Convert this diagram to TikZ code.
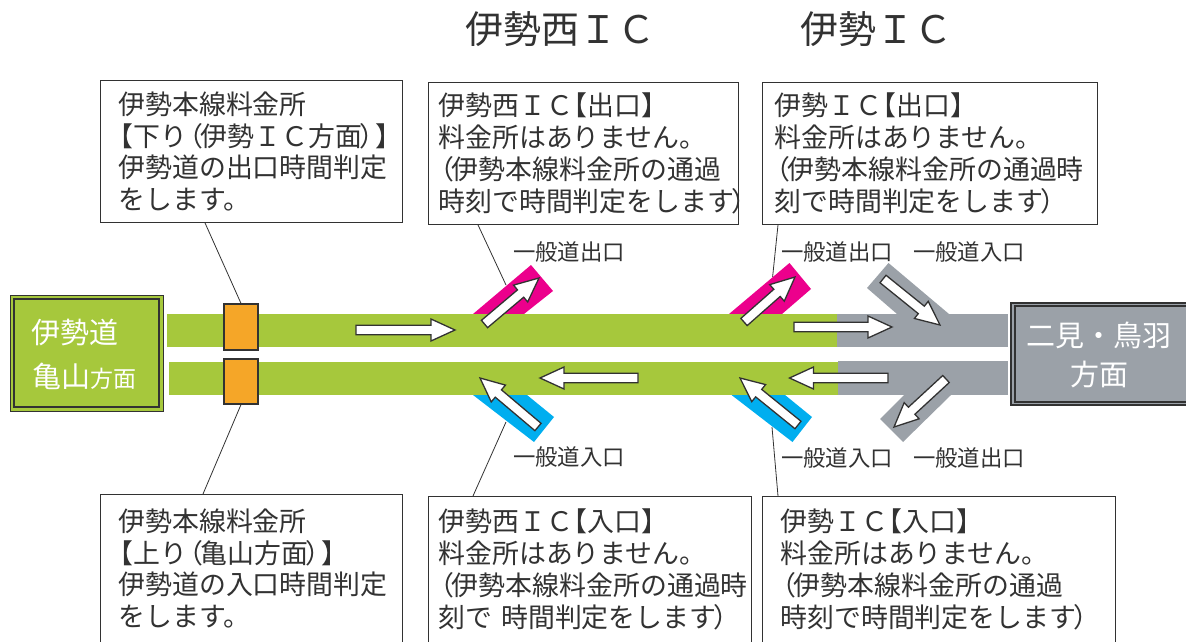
\documentclass[tikz,border=0pt]{standalone}
\usepackage{fontspec}
\setmainfont{Noto Sans CJK JP}
\usetikzlibrary{calc}
\definecolor{roadgreen}{RGB}{166,200,60}
\definecolor{roadgray}{RGB}{155,161,168}
\definecolor{gatefill}{RGB}{245,166,40}
\definecolor{rampmag}{RGB}{236,0,140}
\definecolor{rampcy}{RGB}{0,174,239}
\definecolor{inkdark}{RGB}{50,50,50}
\newcommand{\fsz}[2]{\fontsize{#1}{#2}\selectfont}
\newcommand{\lpar}{\leavevmode\kern-0.4em （\kern-0.1em}
\newcommand{\rpar}{\kern-0.1em）\kern-0.4em}
\newcommand{\lbr}{\leavevmode\kern-0.45em【}
\tikzset{
  infobox/.style={draw=inkdark,line width=0.9pt,fill=white,anchor=north west,align=left,inner ysep=0pt,text=inkdark,font=\fsz{26.9}{31.7}},
  leader/.style={draw=inkdark,line width=0.8pt},
  flow/.style={fill=white,draw=inkdark,line width=1.3pt},
  lbl/.style={text=inkdark,font=\fsz{22.4}{24},inner sep=0pt},
  ttl/.style={text=inkdark,font=\fsz{38}{40},inner sep=0pt},
  signtext/.style={text=white,inner sep=0pt,font=\fsz{29}{32}},
  signbox/.style={draw=inkdark,line width=1.4pt,inner sep=0pt,outer sep=0pt}
}
\newcommand{\flowarrow}[2]{%
  \path let \p1=(#1),\p2=(#2),\n1={atan2(\y2-\y1,\x2-\x1)},\n2={veclen(\x2-\x1,\y2-\y1)} in
    [flow] (\p1) -- ++(\n1+90:4.8pt) -- ++(\n1:\n2-24pt) -- ++(\n1+90:6.2pt) -- (\p2) -- ($(\p1)+(\n1:\n2-24pt)+(\n1-90:11pt)$) -- ++(\n1+90:6.2pt) -- ($(\p1)+(\n1-90:4.8pt)$) -- cycle;}
\begin{document}
\begin{tikzpicture}[x=1pt,y=-1pt]
\useasboundingbox (0,0) rectangle (1186,642);
\begin{scope}
\clip (0,0) rectangle (1186,642);
% roads
\fill[rampmag] (473,314) -- (531,265) -- (553,291) -- (524,314) -- cycle;
\fill[rampmag] (729,314) -- (789.5,263) -- (811,289) -- (782,314) -- cycle;
\fill[rampcy] (473,395) -- (534,442) -- (554,417) -- (527,395) -- cycle;
\fill[rampcy] (731.5,395) -- (792.5,442) -- (812,417) -- (785,395) -- cycle;
\fill[roadgray] (897,314) -- (867,288) -- (888.5,263) -- (949,314) -- cycle;
\fill[roadgray] (951,395) -- (903,442) -- (880,419) -- (904,395) -- cycle;
\fill[roadgray] (837,314) rectangle (1008,347);
\fill[roadgray] (838,361) rectangle (1008,395);
\fill[roadgreen] (167,314) rectangle (837,347);
\fill[roadgreen] (169,362) rectangle (838,395);
% boxes
\node[infobox,inner xsep=18pt,text width=266pt,minimum height=142pt] (tl) at (100,80) {伊勢本線料金所\\\lbr 下り\lpar 伊勢ＩＣ方面\rpar 】\\伊勢道の出口時間判定\\をします。};
\node[infobox,inner xsep=10pt,text width=290pt,minimum height=142pt] (tm) at (428,82) {伊勢西ＩＣ\lbr 出口】\\料金所はありません。\\\lpar 伊勢本線料金所の通過\\時刻で時間判定をします\rpar};
\node[infobox,inner xsep=12pt,text width=311pt,minimum height=142pt] (tr) at (762,82) {伊勢ＩＣ\lbr 出口】\\料金所はありません。\\\lpar 伊勢本線料金所の通過時\\刻で時間判定をします\rpar};
\node[infobox,inner xsep=18pt,text width=266pt,minimum height=148pt] (bl) at (100,494) {伊勢本線料金所\\\lbr 上り\lpar 亀山方面\rpar 】\\伊勢道の入口時間判定\\をします。};
\node[infobox,inner xsep=10pt,text width=303pt,minimum height=146pt] (bm) at (428,496) {伊勢西ＩＣ\lbr 入口】\\料金所はありません。\\\lpar 伊勢本線料金所の通過時\\刻で 時間判定をします\rpar};
\node[infobox,inner xsep=18pt,text width=317pt,minimum height=146pt] (br) at (762,496) {伊勢ＩＣ\lbr 入口】\\料金所はありません。\\\lpar 伊勢本線料金所の通過\\時刻で時間判定をします\rpar};
% gates
\node[draw=inkdark,line width=1.2pt,fill=gatefill,minimum width=34pt,minimum height=46pt,inner sep=0pt] (g1) at (241,327) {};
\node[draw=inkdark,line width=1.2pt,fill=gatefill,minimum width=34pt,minimum height=45pt,inner sep=0pt] (g2) at (241,381.5) {};
\coordinate (rm1) at (506,285);
\coordinate (rm2) at (772.6,277);
\coordinate (rm3) at (506,422);
\coordinate (rm4) at (772,427);
\draw[leader] ($(tl.south west)+(105,0)$) -- (g1.north);
\draw[leader] ($(bl.north west)+(103,0)$) -- (g2.south);
\draw[leader] ($(tm.south west)+(50,0)$) -- (rm1);
\draw[leader] ($(tr.south west)+(16,0)$) -- (rm2);
\draw[leader] ($(bm.north west)+(45,0)$) -- (rm3);
\draw[leader] ($(br.north west)+(16,0)$) -- (rm4);
% arrows
\coordinate (a1s) at (356,330); \coordinate (a1e) at (455,330);
\coordinate (a2s) at (484.5,324); \coordinate (a2e) at (539,278);
\coordinate (a3s) at (794,327); \coordinate (a3e) at (892,327);
\coordinate (a4s) at (744,322); \coordinate (a4e) at (795,277);
\coordinate (a5s) at (883,279); \coordinate (a5e) at (940,325);
\coordinate (a6s) at (638,378); \coordinate (a6e) at (540,378);
\coordinate (a7s) at (888,378); \coordinate (a7e) at (789.5,378);
\coordinate (a8s) at (538,427); \coordinate (a8e) at (480,378);
\coordinate (a9s) at (798,425); \coordinate (a9e) at (740,378);
\coordinate (a10s) at (946,379); \coordinate (a10e) at (894,427);
\flowarrow{a1s}{a1e}\flowarrow{a2s}{a2e}\flowarrow{a3s}{a3e}\flowarrow{a4s}{a4e}\flowarrow{a5s}{a5e}
\flowarrow{a6s}{a6e}\flowarrow{a7s}{a7e}\flowarrow{a8s}{a8e}\flowarrow{a9s}{a9e}\flowarrow{a10s}{a10e}
% signs
\node[signbox,line width=0.8pt,fill=roadgreen,anchor=north west,minimum width=153pt,minimum height=116pt] (slo) at (10,295) {};
\node[signbox,line width=1.8pt,fill=roadgreen,anchor=north west,minimum width=145pt,minimum height=108pt] (sl) at (14,299) {};
\node[signtext,anchor=west] (sl1) at (31,333) {伊勢道};
\node[signtext,anchor=west] (sl2) at (32,376) {亀山{\fsz{23}{26}方面}};
\node[signbox,fill=roadgray,anchor=north west,minimum width=180pt,minimum height=102pt] (sro) at (1011,303) {};
\node[signbox,fill=roadgray,anchor=north west,minimum width=175pt,minimum height=96pt] (sr) at (1015,306) {};
\node[signtext] (sr1) at (1099,335) {二見・鳥羽};
\node[signtext] (sr2) at (1099,374) {方面};
\end{scope}
% labels
\node[ttl] (t1) at (560,29.5) {伊勢西ＩＣ};
\node[ttl] (t2) at (876,29.5) {伊勢ＩＣ};
\node[lbl] (l1) at (569,252) {一般道出口};
\node[lbl] (l2) at (837,252) {一般道出口};
\node[lbl] (l3) at (969,252) {一般道入口};
\node[lbl] (l4) at (569,457) {一般道入口};
\node[lbl] (l5) at (837,458) {一般道入口};
\node[lbl] (l6) at (969,458) {一般道出口};
\end{tikzpicture}
\end{document}
